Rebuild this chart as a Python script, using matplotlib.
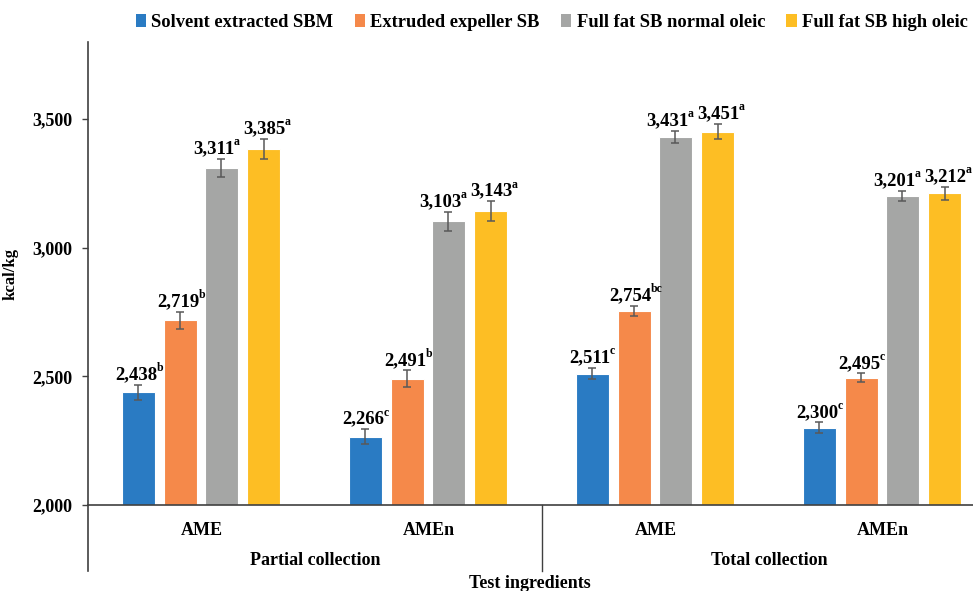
import matplotlib
matplotlib.use("Agg")
import matplotlib.pyplot as plt
from matplotlib.transforms import blended_transform_factory
from matplotlib.patches import Patch
import numpy as np

plt.rcParams["font.family"] = ["Liberation Serif", "DejaVu Serif"]
plt.rcParams["font.weight"] = "bold"

# ── Data ──────────────────────────────────────────────────────────────────
categories = ["AME", "AMEn", "AME", "AMEn"]
groups = ["Partial collection", "Total collection"]
series = ["Solvent extracted SBM", "Extruded expeller SB",
          "Full fat SB normal oleic", "Full fat SB high oleic"]
colors = ["#2A7BC3", "#F5894A", "#A5A6A5", "#FDBE24"]

solvent = [2438, 2266, 2511, 2300]
extruded = [2719, 2491, 2754, 2495]
normal_oleic = [3311, 3103, 3431, 3201]
high_oleic = [3385, 3143, 3451, 3212]

solvent_err = [30, 29, 23, 21]
extruded_err = [33, 32, 20, 17]
normal_err = [35, 36, 23, 21]
high_err = [39, 38, 30, 25]

solvent_sup = ["b", "c", "c", "c"]
extruded_sup = ["b", "b", "bc", "c"]
normal_sup = ["a", "a", "a", "a"]
high_sup = ["a", "a", "a", "a"]

values = [solvent, extruded, normal_oleic, high_oleic]
errors = [solvent_err, extruded_err, normal_err, high_err]
sups = [solvent_sup, extruded_sup, normal_sup, high_sup]

fig = plt.figure(figsize=(9.73, 5.91), dpi=100)
ax = fig.add_axes([88 / 973, 86 / 591, 908 / 973, 463 / 591])

x = np.arange(len(categories))
offsets = [-0.278, -0.093, 0.087, 0.275]
width = 0.145
nudges = [0, 0, -4, 2]  # label shift in points, keeps neighbours apart

ax.set_xlim(-0.5, 3.5)
ax.set_ylim(2000, 3800)

renderer = fig.canvas.get_renderer()
for vals, errs, sp, off, col, name, nd in zip(values, errors, sups, offsets,
                                               colors, series, nudges):
    ax.bar(x + off, np.array(vals) - 2000, width, bottom=2000, color=col,
           edgecolor="white", linewidth=0.8, label=name, zorder=2)
    ax.errorbar(x + off, vals, yerr=errs, fmt="none", ecolor="#595959",
                elinewidth=1.1, capsize=3, capthick=1.1, zorder=3)
    for xi, v, e, s in zip(x + off, vals, errs, sp):
        sup_w = 3.2 * len(s)
        t = ax.annotate(f"{v:,}", (xi, v + e), xytext=(nd - sup_w / 2, 4),
                        textcoords="offset points", ha="center", va="baseline",
                        fontsize=13.5, fontweight="bold")
        w_pt = t.get_window_extent(renderer).width * 72 / fig.dpi
        ax.annotate(s, (xi, v + e), xytext=(nd - sup_w / 2 + w_pt / 2 - 0.5, 9.8),
                    textcoords="offset points", ha="left", va="baseline",
                    fontsize=8.5, fontweight="bold")

ax.set_yticks([2000, 2500, 3000, 3500])
ax.set_yticklabels(["2,000", "2,500", "3,000", "3,500"])
ax.tick_params(axis="y", length=4, width=1, pad=7, labelsize=13, color="#404040")
ax.tick_params(axis="x", length=0, labelbottom=False)
for lab in ax.get_yticklabels():
    lab.set_fontweight("bold")
ax.spines["top"].set_visible(False)
ax.spines["right"].set_visible(False)
ax.spines["left"].set_color("#404040")
ax.spines["bottom"].set_color("#404040")
ax.spines["left"].set_linewidth(1.2)
ax.spines["bottom"].set_linewidth(1.2)

# category and group labels below the axis
trans = blended_transform_factory(ax.transData, ax.transAxes)
for xi, c in zip(x, categories):
    ax.text(xi, -0.055, c, transform=trans, ha="center", va="center",
            fontsize=13, fontweight="bold")
ax.text(0.5, -0.12, groups[0], transform=trans, ha="center", va="center",
        fontsize=13, fontweight="bold")
ax.text(2.5, -0.12, groups[1], transform=trans, ha="center", va="center",
        fontsize=13, fontweight="bold")
ax.plot([-0.5, -0.5], [0, -0.142], transform=trans, color="#404040",
        linewidth=1.2, clip_on=False)
ax.plot([1.5, 1.5], [0, -0.142], transform=trans, color="#404040",
        linewidth=1.0, clip_on=False)

fig.text(530 / 973, 1 - 584 / 591, "Test ingredients", ha="center", va="center",
         fontsize=13, fontweight="bold")
ax.set_ylabel("kcal/kg", fontsize=12, fontweight="bold", labelpad=4)
ax.yaxis.set_label_coords(-0.077, 0.5)

handles = [Patch(facecolor=c, edgecolor="none") for c in colors]
fig.legend(handles, series, loc="upper right", bbox_to_anchor=(1.012, 1.005),
           ncol=4, frameon=False, handlelength=0.55,
           handleheight=0.7, handletextpad=0.3, columnspacing=1.15,
           prop={"weight": "bold", "size": 13.3})

fig.savefig("out.png", dpi=100)
